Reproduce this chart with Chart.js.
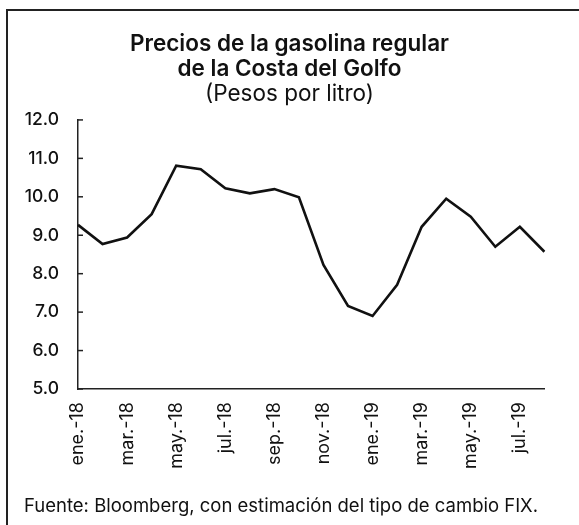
<!DOCTYPE html>
<html>
<head>
<meta charset="utf-8">
<script src="https://cdn.jsdelivr.net/npm/chart.js@4"></script>
<style>
  body { margin: 0; background: #fff; }
  #frame { position: absolute; left: 6px; top: 9px; width: 573px; height: 516px;
           border-left: 2px solid #222; border-top: 2px solid #222; }
  #wrap { position: absolute; left: 0; top: 0; width: 579px; height: 525px; }
  #note { position: absolute; left: 24px; top: 494px; font: 18.5px Inter, sans-serif; color: #111; white-space: nowrap; }
</style>
</head>
<body>
<div id="frame"></div>
<div id="wrap"><canvas id="chart"></canvas></div>
<div id="note">Fuente: Bloomberg, con estimación del tipo de cambio FIX.</div>
<script>
const months = ['ene.-18', 'feb.-18', 'mar.-18', 'abr.-18', 'may.-18', 'jun.-18', 'jul.-18', 'ago.-18',
                'sep.-18', 'oct.-18', 'nov.-18', 'dic.-18', 'ene.-19', 'feb.-19', 'mar.-19', 'abr.-19',
                'may.-19', 'jun.-19', 'jul.-19', 'ago.-19'];
const prices = [9.27, 8.77, 8.94, 9.55, 10.81, 10.72, 10.22, 10.09, 10.20, 9.99,
                8.23, 7.16, 6.90, 7.71, 9.22, 9.95, 9.48, 8.70, 9.22, 8.57];
const yTicks = [5, 6, 7, 8, 9, 10, 11, 12];

// small tick marks drawn inside the y axis
const innerTicks = {
    id: 'innerTicks',
    afterDraw(chart) {
        const ctx = chart.ctx;
        const y = chart.scales.y;
        ctx.save();
        ctx.strokeStyle = '#222';
        ctx.lineWidth = 1.5;
        yTicks.forEach(v => {
            const py = y.getPixelForValue(v);
            ctx.beginPath();
            ctx.moveTo(y.right, py);
            ctx.lineTo(y.right + 5, py);
            ctx.stroke();
        });
        ctx.restore();
    }
};

// center title + subtitle on the whole canvas, not just the padded area
const centerTitles = {
    id: 'centerTitles',
    afterLayout(chart) {
        chart.boxes.forEach(b => {
            if (b.position === 'top' && !b.axis) {
                b.left = 0;
                b.right = chart.width;
                b.width = chart.width;
            }
        });
    }
};

const ctx = document.getElementById('chart').getContext('2d');
new Chart(ctx, {
    type: 'line',
    data: {
        labels: months,
        datasets: [{
            data: prices,
            borderColor: '#111',
            borderWidth: 2.6,
            pointRadius: 0,
            tension: 0,
            fill: false
        }]
    },
    plugins: [innerTicks, centerTitles],
    options: {
        responsive: true,
        maintainAspectRatio: false,
        animation: false,
        layout: { padding: { left: 0, right: 24, top: 0, bottom: 0 } },
        plugins: {
            legend: { display: false },
            tooltip: { enabled: false },
            title: {
                display: true,
                text: ['Precios de la gasolina regular', 'de la Costa del Golfo'],
                color: '#111',
                font: { family: 'Inter', size: 22.5, weight: '600', lineHeight: 1.11 },
                padding: { top: 32, bottom: 0 }
            },
            subtitle: {
                display: true,
                text: '(Pesos por litro)',
                color: '#111',
                font: { family: 'Inter', size: 22.5, weight: '400', lineHeight: 1.11 },
                padding: { top: 0, bottom: 13 }
            }
        },
        scales: {
            x: {
                offset: false,
                afterFit(scale) { scale.height = 136; },
                border: { display: true, color: '#222', width: 1.5 },
                grid: { display: false, drawTicks: false },
                ticks: {
                    autoSkip: false,
                    maxRotation: 90,
                    minRotation: 90,
                    padding: 13,
                    color: '#111',
                    font: { family: 'Inter', size: 18 },
                    callback: (v, i) => (i % 2 === 0 ? months[i] : '')
                }
            },
            y: {
                min: 5,
                max: 12,
                afterFit(scale) { scale.width = 78; },
                afterBuildTicks(scale) { scale.ticks = yTicks.map(v => ({ value: v })); },
                border: { display: true, color: '#222', width: 1.5 },
                grid: { display: false, drawTicks: false },
                ticks: {
                    padding: 19,
                    color: '#111',
                    font: { family: 'Inter', size: 17.5, weight: '500' },
                    callback: v => v.toFixed(1)
                }
            }
        }
    }
});
</script>
</body>
</html>
